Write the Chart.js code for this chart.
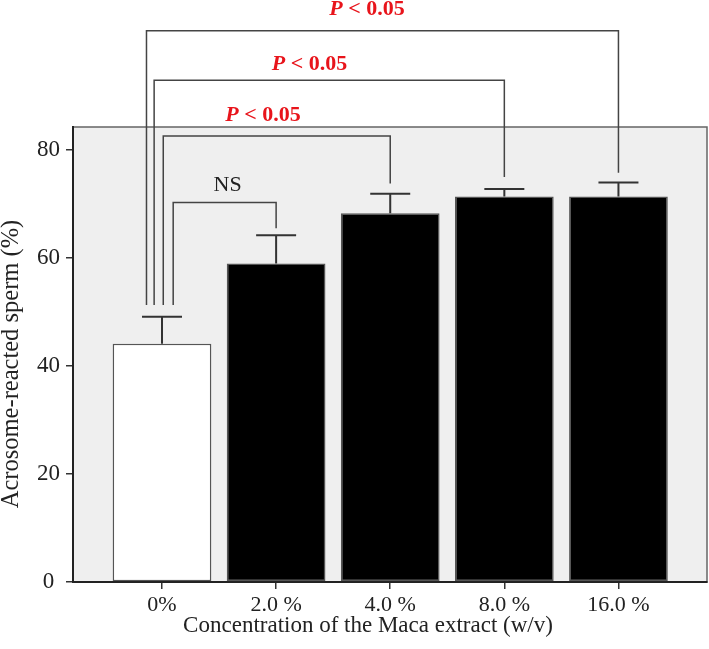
<!DOCTYPE html>
<html>
<head>
<meta charset="utf-8">
<title>Acrosome-reacted sperm</title>
<script src="https://cdn.jsdelivr.net/npm/chart.js@4.4.1/dist/chart.umd.min.js"></script>
<style>
  html, body { margin: 0; padding: 0; background: #fff; }
  #wrap { width: 709px; height: 649px; position: relative; }
</style>
</head>
<body>
<div id="wrap"><canvas id="acrosomeChart"></canvas></div>
<script>
        // data
        const concentrations = ['0%', '2.0 %', '4.0 %', '8.0 %', '16.0 %'];
        const meanReacted = [44.1, 59.0, 68.3, 71.4, 71.4];
        const errReacted = [5.0, 5.2, 3.6, 1.4, 2.6];
        const yTicks = [0, 20, 40, 60, 80];
        const barColors = ['#ffffff', '#000000', '#000000', '#000000', '#000000'];

        // significance brackets (0% vs each group)
        const bracketLabels = ['NS', 'P < 0.05', 'P < 0.05', 'P < 0.05'];
        const bracketTo = [1, 2, 3, 4];
        const bracketFrom = [0.098, 0.011, -0.069, -0.136];
        const bracketLevel = [70.3, 82.6, 92.9, 102.1];
        const bracketDropLeft = [51.3, 51.3, 51.3, 51.3];
        const bracketDropRight = [65.5, 73.8, 75.0, 75.8];
        const bracketTextX = [0.575, 0.885, 1.293, 1.797];
        const bracketTextY = [72.4, 85.4, 94.8, 105.0];

        const serif = "'Liberation Serif', 'Times New Roman', serif";

        const panelPlugin = {
            id: 'panel',
            beforeDraw(chart) {
                const { ctx, chartArea: a } = chart;
                ctx.save();
                ctx.fillStyle = '#efefef';
                ctx.fillRect(a.left, a.top, a.right - a.left, a.bottom - a.top);
                ctx.strokeStyle = '#666';
                ctx.lineWidth = 1.5;
                ctx.strokeRect(a.left, a.top, a.right - a.left, a.bottom - a.top);
                ctx.restore();
            }
        };

        const errorBarPlugin = {
            id: 'errorBars',
            afterDatasetsDraw(chart) {
                const { ctx } = chart;
                const yScale = chart.scales.y;
                const meta = chart.getDatasetMeta(0);
                ctx.save();
                ctx.strokeStyle = '#333';
                ctx.lineWidth = 2;
                meta.data.forEach((bar, i) => {
                    const top = yScale.getPixelForValue(meanReacted[i] + errReacted[i]);
                    const base = yScale.getPixelForValue(meanReacted[i]);
                    ctx.beginPath();
                    ctx.moveTo(bar.x, base);
                    ctx.lineTo(bar.x, top);
                    ctx.moveTo(bar.x - 20, top);
                    ctx.lineTo(bar.x + 20, top);
                    ctx.stroke();
                });
                ctx.restore();
            }
        };

        const bracketPlugin = {
            id: 'brackets',
            afterDraw(chart) {
                const { ctx } = chart;
                const xs = chart.scales.x, ys = chart.scales.y;
                ctx.save();
                ctx.strokeStyle = '#444';
                ctx.lineWidth = 1.5;
                for (let i = 0; i < bracketLabels.length; i++) {
                    const x1 = xs.getPixelForValue(bracketFrom[i]);
                    const x2 = xs.getPixelForValue(bracketTo[i]);
                    const yl = ys.getPixelForValue(bracketLevel[i]);
                    ctx.beginPath();
                    ctx.moveTo(x1, ys.getPixelForValue(bracketDropLeft[i]));
                    ctx.lineTo(x1, yl);
                    ctx.lineTo(x2, yl);
                    ctx.lineTo(x2, ys.getPixelForValue(bracketDropRight[i]));
                    ctx.stroke();

                    const tx = xs.getPixelForValue(bracketTextX[i]);
                    const ty = ys.getPixelForValue(bracketTextY[i]);
                    ctx.textBaseline = 'alphabetic';
                    if (bracketLabels[i] === 'NS') {
                        ctx.fillStyle = '#222';
                        ctx.font = '22px ' + serif;
                        ctx.textAlign = 'center';
                        ctx.fillText('NS', tx, ty);
                    } else {
                        // italic bold P, then the rest upright bold
                        ctx.fillStyle = '#e8141b';
                        const rest = bracketLabels[i].slice(1);
                        ctx.font = 'italic bold 22px ' + serif;
                        const wP = ctx.measureText('P').width;
                        ctx.font = 'bold 22px ' + serif;
                        const wR = ctx.measureText(rest).width;
                        const start = tx - (wP + wR) / 2;
                        ctx.textAlign = 'left';
                        ctx.font = 'italic bold 22px ' + serif;
                        ctx.fillText('P', start, ty);
                        ctx.font = 'bold 22px ' + serif;
                        ctx.fillText(rest, start + wP, ty);
                    }
                }
                ctx.restore();
            }
        };

        const axisTitlePlugin = {
            id: 'axisTitles',
            afterDraw(chart) {
                const { ctx, chartArea: a } = chart;
                ctx.save();
                ctx.fillStyle = '#222';
                ctx.font = '23px ' + serif;
                ctx.textAlign = 'center';
                ctx.textBaseline = 'middle';
                ctx.fillText('Concentration of the Maca extract (w/v)', a.left + 295, 626);
                ctx.font = '24.5px ' + serif;
                ctx.translate(12, a.top + 237);
                ctx.rotate(-Math.PI / 2);
                ctx.fillText('Acrosome-reacted sperm (%)', 0, 0);
                ctx.restore();
            }
        };

        const ctxAcrosome = document.getElementById('acrosomeChart').getContext('2d');
        new Chart(ctxAcrosome, {
            type: 'bar',
            data: {
                datasets: [{
                    label: 'Acrosome-reacted sperm (%)',
                    data: meanReacted.map((v, i) => ({ x: i, y: v })),
                    backgroundColor: barColors,
                    borderColor: '#555',
                    borderWidth: 1.5,
                    borderSkipped: false,
                    barPercentage: 0.865,
                    categoryPercentage: 1
                }]
            },
            options: {
                responsive: true,
                maintainAspectRatio: false,
                animation: false,
                layout: { padding: { top: 127, right: 2, left: 0, bottom: 0 } },
                scales: {
                    x: {
                        type: 'linear',
                        offset: false,
                        min: -0.78,
                        max: 4.776,
                        afterBuildTicks: (scale) => {
                            scale.ticks = concentrations.map((_, i) => ({ value: i }));
                        },
                        afterFit: (scale) => { scale.height = 67; },
                        ticks: {
                            autoSkip: false,
                            maxRotation: 0,
                            padding: 3,
                            color: '#222',
                            font: { family: serif, size: 22 },
                            callback: (value) => concentrations[value]
                        },
                        grid: { offset: false, drawOnChartArea: false, drawTicks: true, tickLength: 7, color: '#333', lineWidth: 1.5 },
                        border: { display: true, color: '#222', width: 2 }
                    },
                    y: {
                        min: 0,
                        max: 84.26,
                        afterBuildTicks: (scale) => {
                            scale.ticks = yTicks.map(v => ({ value: v }));
                        },
                        afterFit: (scale) => { scale.width = 73; },
                        ticks: {
                            crossAlign: 'center',
                            padding: 6,
                            color: '#222',
                            font: { family: serif, size: 23 }
                        },
                        grid: { drawOnChartArea: false, drawTicks: true, tickLength: 7, color: '#333', lineWidth: 1.5 },
                        border: { display: true, color: '#222', width: 2 }
                    }
                },
                plugins: {
                    legend: { display: false },
                    tooltip: { enabled: false }
                }
            },
            plugins: [panelPlugin, errorBarPlugin, bracketPlugin, axisTitlePlugin]
        });
</script>
</body>
</html>
